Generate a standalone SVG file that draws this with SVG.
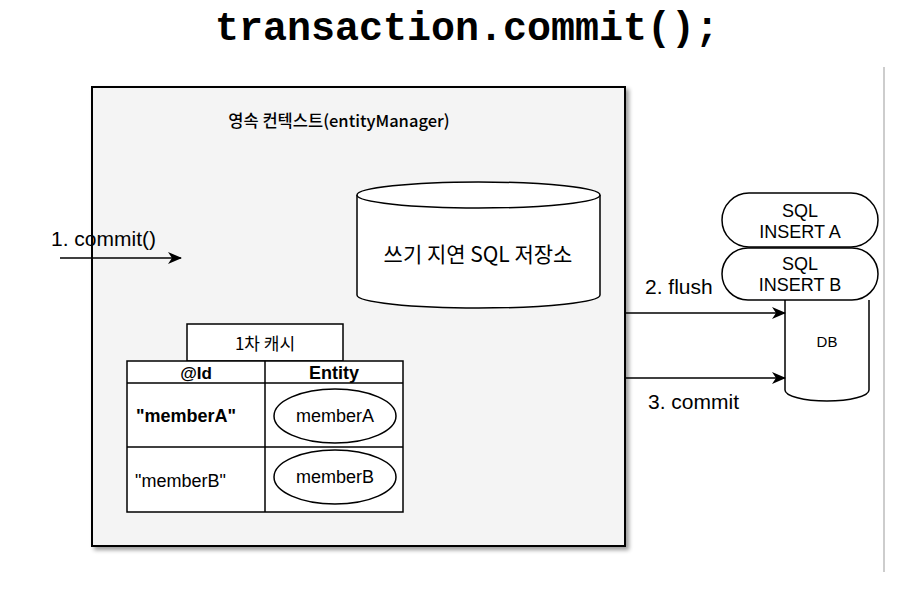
<svg xmlns="http://www.w3.org/2000/svg" width="902" height="591" viewBox="0 0 902 591">
<defs>
  <filter id="sh" x="-5%" y="-5%" width="110%" height="110%">
    <feGaussianBlur in="SourceAlpha" stdDeviation="2"/>
    <feOffset dx="3" dy="3" result="b"/>
    <feComponentTransfer><feFuncA type="linear" slope="0.4"/></feComponentTransfer>
    <feMerge><feMergeNode/><feMergeNode in="SourceGraphic"/></feMerge>
  </filter>
  <marker id="arr" markerWidth="14" markerHeight="12" refX="13" refY="6" orient="auto" markerUnits="userSpaceOnUse">
    <path d="M0,0 L14,6 L0,12 L4,6 Z" fill="#000"/>
  </marker>
</defs>
<style>
  text { font-family: "Liberation Sans", "Noto Sans CJK KR", sans-serif; fill: #000; }
  .k { font-family: "Noto Sans CJK KR", "Liberation Sans", sans-serif; }
  .shape { fill: #fff; stroke: #000; stroke-width: 1.5; }
  .conn { stroke: #000; stroke-width: 1.5; fill: none; }
</style>
<rect width="902" height="591" fill="#fff"/>
<line x1="884" y1="67" x2="884" y2="572" stroke="#bdbdbd" stroke-width="1.5"/>
<text x="467" y="40" text-anchor="middle" style="font-family:'Liberation Mono',monospace;font-weight:bold;font-size:40px">transaction.commit();</text>

<g id="context">
  <rect x="92" y="87" width="533" height="459" fill="#f4f4f4" stroke="#000" stroke-width="2" filter="url(#sh)"/>
  <text class="k" x="339" y="127" text-anchor="middle" font-size="16.5" font-weight="500">영속 컨텍스트(entityManager)</text>
</g>

<g id="sqlstore">
  <path class="shape" d="M357,195 A121.5,13 0 0 1 600,195 L600,295 A121.5,13 0 0 1 357,295 Z"/>
  <path class="shape" fill="none" d="M357,195 A121.5,13 0 0 0 600,195"/>
  <text class="k" x="478" y="262" text-anchor="middle" font-size="21">쓰기 지연 SQL 저장소</text>
</g>

<g id="cache">
  <rect class="shape" x="187" y="324" width="156" height="37"/>
  <text class="k" x="265" y="350" text-anchor="middle" font-size="17">1차 캐시</text>
  <rect class="shape" x="127" y="361" width="276" height="151"/>
  <line class="conn" x1="127" y1="383" x2="403" y2="383"/>
  <line class="conn" x1="127" y1="447" x2="403" y2="447"/>
  <line class="conn" x1="265" y1="361" x2="265" y2="512"/>
  <text x="196" y="379" text-anchor="middle" font-size="17" font-weight="bold">@Id</text>
  <text x="334" y="379" text-anchor="middle" font-size="18" font-weight="bold">Entity</text>
  <text x="136" y="422" font-size="18" font-weight="bold">"memberA"</text>
  <text x="135" y="487" font-size="18">"memberB"</text>
  <ellipse class="shape" cx="335" cy="416" rx="61" ry="27"/>
  <text x="335" y="422" text-anchor="middle" font-size="18">memberA</text>
  <ellipse class="shape" cx="335" cy="477" rx="61" ry="27"/>
  <text x="335" y="483" text-anchor="middle" font-size="18">memberB</text>
</g>

<g id="db">
  <path class="shape" d="M785,300 L785,390 A42,11 0 0 0 869,390 L869,300"/>
  <text x="827" y="347" text-anchor="middle" font-size="15">DB</text>
</g>

<g id="insertA">
  <rect class="shape" x="722" y="193" width="156" height="54" rx="27" ry="27"/>
  <text x="800" y="217" text-anchor="middle" font-size="18">SQL</text>
  <text x="800" y="238" text-anchor="middle" font-size="18">INSERT A</text>
</g>

<g id="insertB">
  <rect class="shape" x="722" y="248" width="156" height="52" rx="26" ry="26"/>
  <text x="800" y="270" text-anchor="middle" font-size="18">SQL</text>
  <text x="800" y="291" text-anchor="middle" font-size="18">INSERT B</text>
</g>

<g id="connectors">
  <line class="conn" x1="60" y1="258" x2="181" y2="258" marker-end="url(#arr)"/>
  <line class="conn" x1="626" y1="313" x2="785" y2="313" marker-end="url(#arr)"/>
  <line class="conn" x1="626" y1="378" x2="785" y2="378" marker-end="url(#arr)"/>
  <text x="51" y="246" font-size="21">1. commit()</text>
  <text x="645" y="294" font-size="21">2. flush</text>
  <text x="648" y="409" font-size="21">3. commit</text>
</g>
</svg>
